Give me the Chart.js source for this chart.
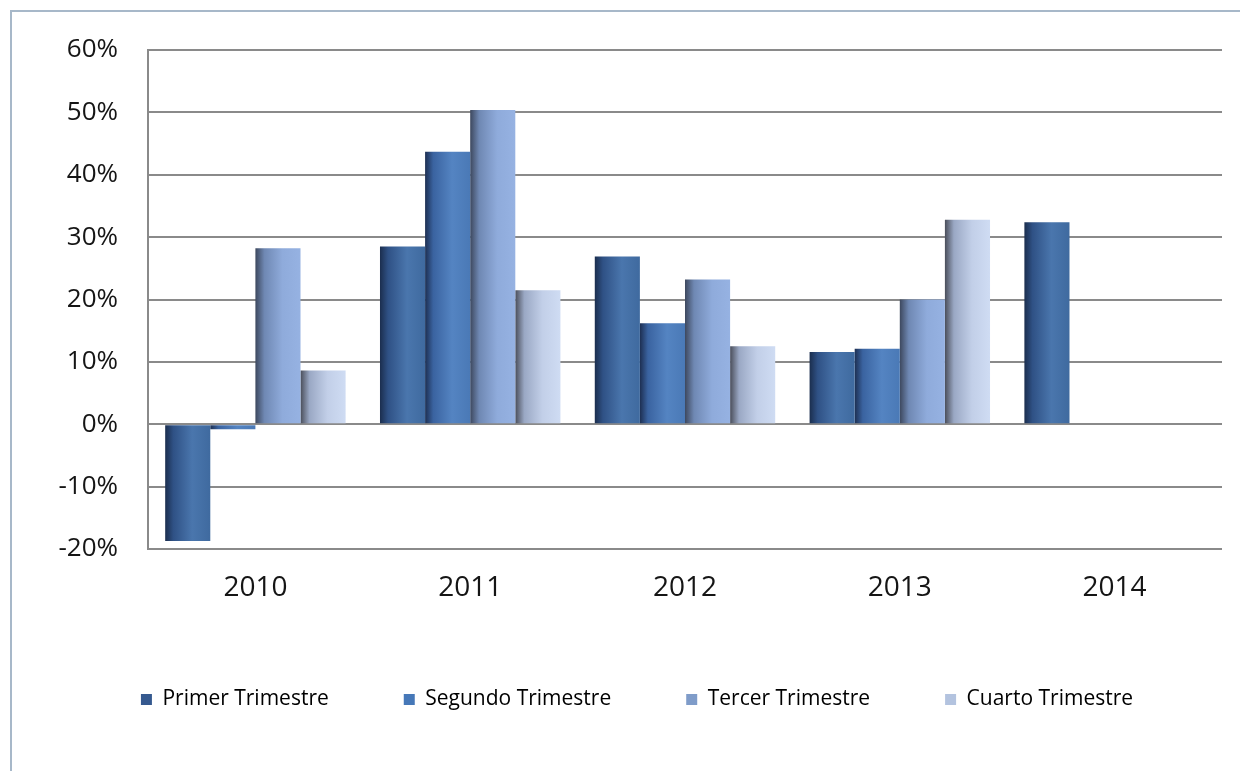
<!DOCTYPE html>
<html>
<head>
<meta charset="utf-8">
<title>Variación trimestral</title>
<script src="https://cdn.jsdelivr.net/npm/chart.js@4/dist/chart.umd.min.js"></script>
<style>
  body { margin: 0; background: #fff; }
  #wrap { position: relative; width: 1240px; height: 771px; overflow: hidden; }
  #marco { position: absolute; left: 10px; top: 10px; width: 1300px; height: 800px;
           border-left: 2px solid #a7b8c9; border-top: 2px solid #a7b8c9; }
  #grafico { position: absolute; left: 0; top: 0; }
</style>
</head>
<body>
<div id="wrap">
  <div id="marco"></div>
  <canvas id="grafico" width="1240" height="771"></canvas>
</div>
<script>
// años y variación por trimestre (%)
const anios = ['2010', '2011', '2012', '2013', '2014'];
const primerTrim = [-18.7, 28.5, 26.9, 11.6, 32.4];
const segundoTrim = [-0.8, 43.7, 16.2, 12.1, null];
const tercerTrim = [28.2, 50.4, 23.2, 20.0, null];
const cuartoTrim = [8.6, 21.5, 12.5, 32.8, null];

const nombres = ['Primer Trimestre', 'Segundo Trimestre', 'Tercer Trimestre', 'Cuarto Trimestre'];

// degradado horizontal de cada serie (oscuro a la izquierda)
const degradados = [
    [[0, '#1b2e4e'], [0.18, '#2f5185'], [0.6, '#4a76ad'], [1, '#3f6a9f']],
    [[0, '#1d2f52'], [0.18, '#3a63a0'], [0.6, '#5484c2'], [1, '#4a79b6']],
    [[0, '#3d485e'], [0.2, '#6f88b3'], [0.6, '#8fabdb'], [1, '#96b2e2']],
    [[0, '#4a4e5a'], [0.2, '#9aa8c4'], [0.6, '#c2cfe8'], [1, '#cfdcf3']]
];
const coloresLeyenda = ['#35598f', '#4678b8', '#7f9cc9', '#b3c3df'];

function relleno(i) {
    return function (ctx) {
        const bar = ctx.element;
        if (!bar || bar.width === undefined || isNaN(bar.x)) {
            return coloresLeyenda[i];
        }
        let g = ctx.chart.ctx.createLinearGradient(bar.x - bar.width / 2, 0, bar.x + bar.width / 2, 0);
        degradados[i].forEach(s => g.addColorStop(s[0], s[1]));
        return g;
    };
}

const series = [primerTrim, segundoTrim, tercerTrim, cuartoTrim];

let datos = {
    labels: anios,
    datasets: series.map((d, i) => ({
        label: nombres[i],
        data: d,
        backgroundColor: relleno(i),
        borderWidth: 0,
        categoryPercentage: 0.84,
        barPercentage: 1.0
    }))
};

let grafico = new Chart(document.getElementById('grafico'), {
    type: 'bar',
    data: datos,
    options: {
        responsive: false,
        animation: false,
        layout: {
            padding: { top: 50, right: 18, bottom: 51, left: 52 }
        },
        scales: {
            y: {
                min: -20,
                max: 60,
                afterFit: s => { s.width = 96; },
                ticks: {
                    stepSize: 10,
                    padding: 30,
                    color: '#151515',
                    font: { family: 'Open Sans', size: 26 },
                    callback: v => v + '%'
                },
                grid: { color: '#8a8a8a', lineWidth: 2, drawTicks: false },
                border: { display: true, color: '#8a8a8a', width: 2 }
            },
            x: {
                afterFit: s => { s.height = 65; },
                ticks: {
                    padding: 22,
                    color: '#151515',
                    font: { family: 'Open Sans', size: 28 }
                },
                grid: { display: false, drawTicks: false },
                border: { display: false }
            }
        },
        plugins: {
            legend: {
                position: 'bottom',
                labels: {
                    boxWidth: 11,
                    boxHeight: 11,
                    padding: 75,
                    color: '#151515',
                    font: { family: 'Open Sans', size: 21 },
                    generateLabels: chart => nombres.map((n, i) => ({
                        text: n,
                        fillStyle: coloresLeyenda[i],
                        strokeStyle: coloresLeyenda[i],
                        lineWidth: 0,
                        datasetIndex: i
                    }))
                }
            },
            tooltip: { enabled: false }
        }
    }
});

// segunda pasada: las barras ya tienen posición para el degradado
grafico.update();
</script>
</body>
</html>
